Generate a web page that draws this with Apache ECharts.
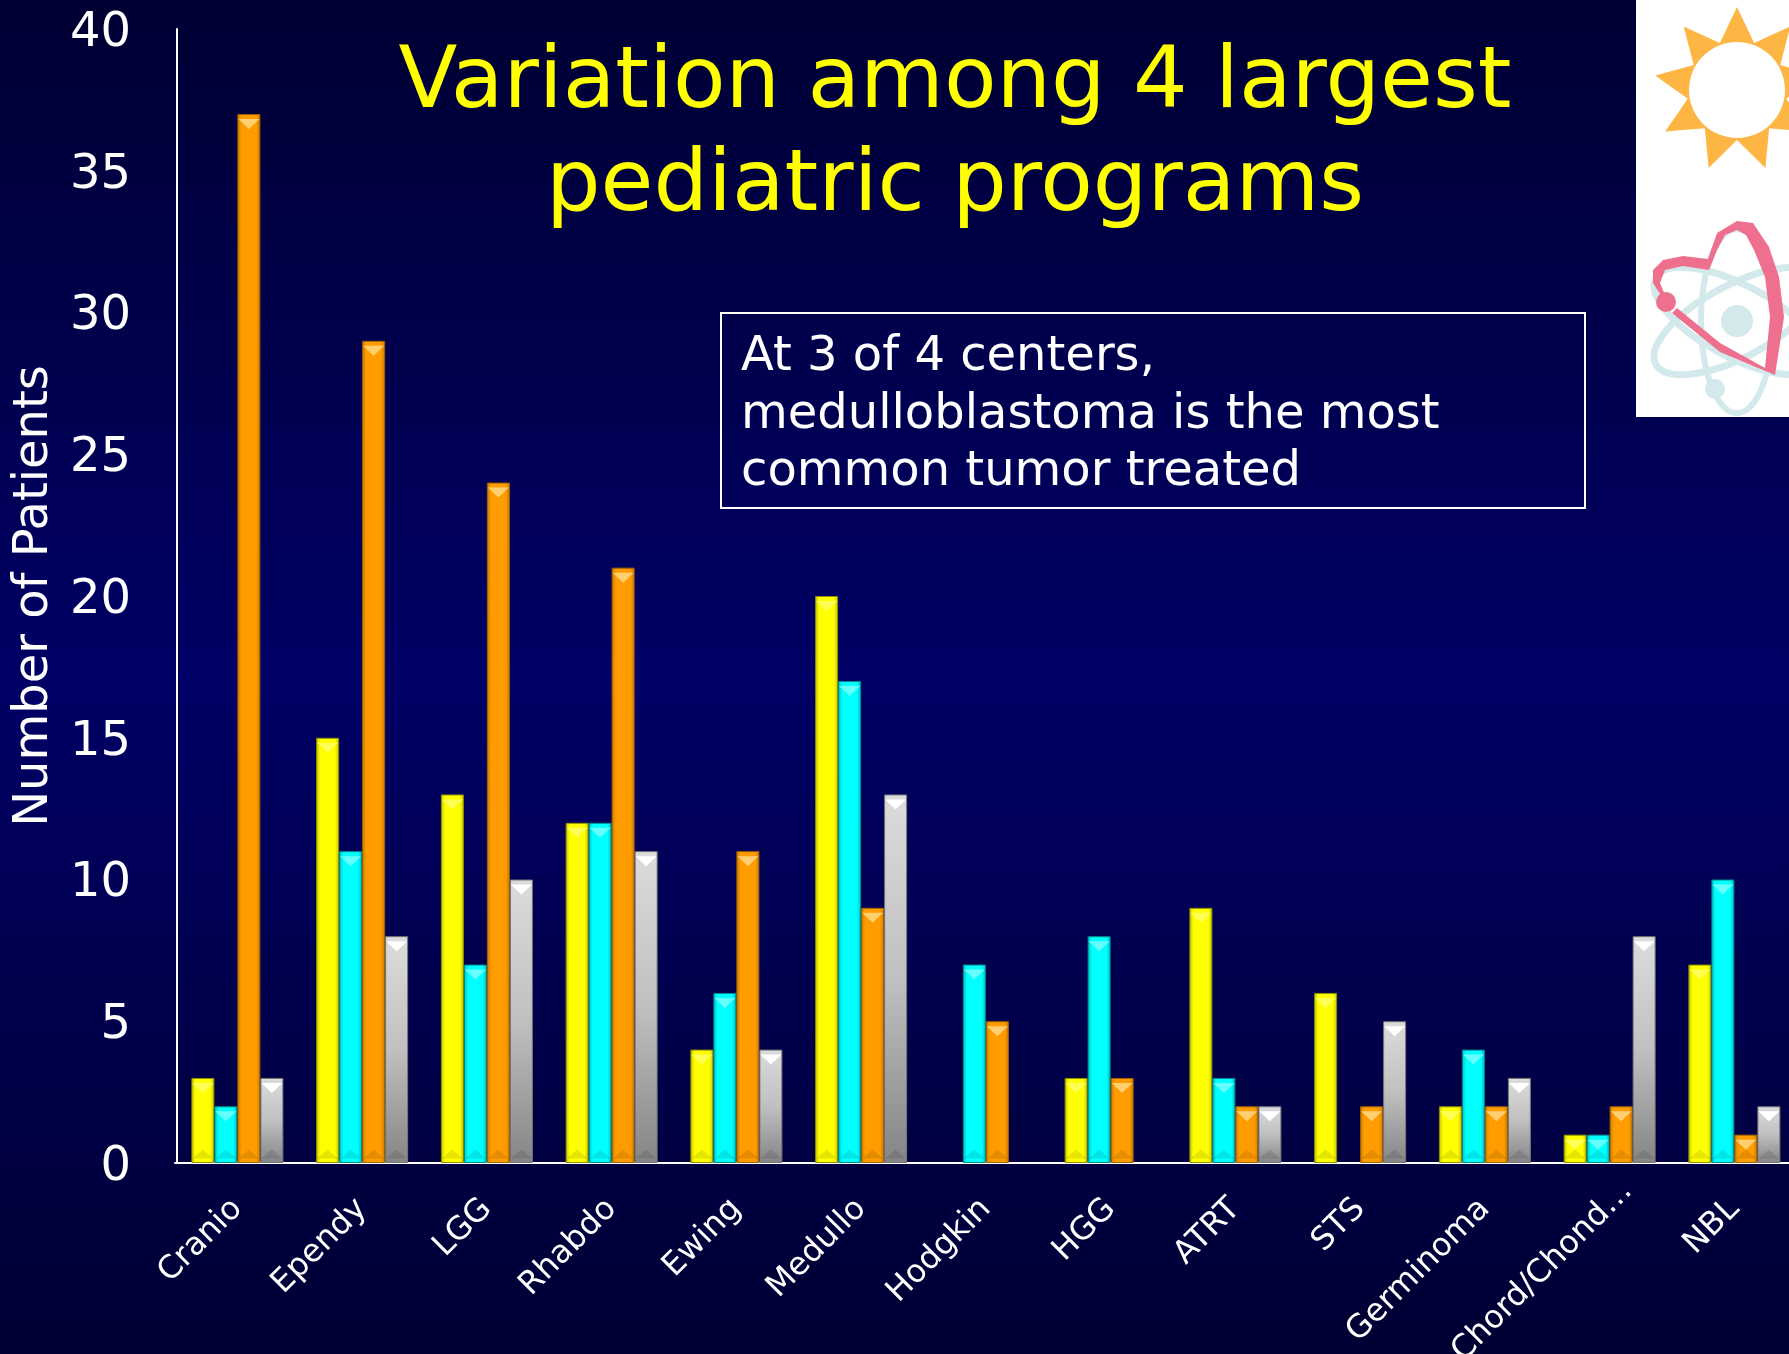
<!DOCTYPE html>
<html>
<head>
<meta charset="utf-8">
<title>Variation among 4 largest pediatric programs</title>
<script src="https://cdn.jsdelivr.net/npm/echarts@6/dist/echarts.min.js"></script>
<style>
  html, body { margin: 0; padding: 0; background: #000044; }
  #main { width: 1789px; height: 1354px; }
</style>
</head>
<body>
<div id="main"></div>
<script>
// values
const categories = ['Cranio', 'Ependy', 'LGG', 'Rhabdo', 'Ewing', 'Medullo', 'Hodgkin', 'HGG', 'ATRT', 'STS', 'Germinoma', 'Chord/Chond…', 'NBL'];
const centerA = [3, 15, 13, 12, 4, 20, null, 3, 9, 6, 2, 1, 7];
const centerB = [2, 11, 7, 12, 6, 17, 7, 8, 3, null, 4, 1, 10];
const centerC = [37, 29, 24, 21, 11, 9, 5, 3, 2, 2, 2, 2, 1];
const centerD = [3, 8, 10, 11, 4, 13, null, null, 2, 5, 3, 8, 2];
const titleLines = ['Variation among 4 largest', 'pediatric programs'];
const noteLines = ['At 3 of 4 centers,', 'medulloblastoma is the most', 'common tumor treated'];

const FONT = '"DejaVu Sans", Verdana, sans-serif';
const BAR_W = 23;

const chart = echarts.init(document.getElementById('main'));

function sideShade(edge, mid) {
  return new echarts.graphic.LinearGradient(0, 0, 1, 0, [
    { offset: 0, color: edge },
    { offset: 0.18, color: mid },
    { offset: 0.82, color: mid },
    { offset: 1, color: edge }
  ]);
}

// bar + bevel styling per center
const looks = [
  { data: centerA, fill: sideShade('#c4c400', '#ffff00'), border: '#8f8f00', bevel: '#ffff55' },
  { data: centerB, fill: sideShade('#00bcbc', '#00ffff'), border: '#008c8c', bevel: '#66ffff' },
  { data: centerC, fill: sideShade('#c87a00', '#ff9c00'), border: '#a06400', bevel: '#ffcf70' },
  {
    data: centerD,
    fill: new echarts.graphic.LinearGradient(0, 0, 0, 1, [
      { offset: 0, color: '#dcdcdc' },
      { offset: 0.5, color: '#c0c0c0' },
      { offset: 1, color: '#858585' }
    ]),
    border: '#777777',
    bevel: '#ffffff'
  }
];

const series = [];
looks.forEach(function (look, i) {
  series.push({
    type: 'bar',
    name: 'Center ' + (i + 1),
    data: look.data,
    barWidth: BAR_W,
    barGap: '0%',
    z: 2,
    itemStyle: { color: look.fill, borderColor: look.border, borderWidth: 1 }
  });
});
// top bevel
looks.forEach(function (look) {
  series.push({
    type: 'pictorialBar',
    data: look.data,
    barWidth: BAR_W,
    barGap: '0%',
    symbol: 'path://M0 0 L2 0 L1 1 Z',
    symbolKeepAspect: false,
    symbolSize: [BAR_W - 2, 10],
    symbolPosition: 'end',
    symbolOffset: [0, '50%'],
    z: 3,
    silent: true,
    itemStyle: { color: look.bevel }
  });
});
// faint bottom bevel, on a hidden second x axis so it gets its own slots
looks.forEach(function (look) {
  series.push({
    type: 'pictorialBar',
    xAxisIndex: 1,
    data: look.data,
    barWidth: BAR_W,
    barGap: '0%',
    symbol: 'path://M0 1 L2 1 L1 0 Z',
    symbolKeepAspect: false,
    symbolSize: [BAR_W - 2, 9],
    symbolPosition: 'start',
    symbolOffset: [0, '-50%'],
    z: 3,
    silent: true,
    itemStyle: { color: 'rgba(0,0,0,0.1)' }
  });
});

// sun outline for the white corner picture
const sunPts = [];
for (let k = 0; k < 18; k++) {
  const ang = -Math.PI / 2 + k * Math.PI / 9;
  const r = k % 2 === 0 ? 83 : 50;
  sunPts.push([1737 + r * Math.cos(ang), 90 + r * Math.sin(ang)]);
}

// pink heart-shaped orbit, traced by hand
const heartPts = [
  [1665, 302], [1653, 283], [1653, 270], [1663, 260], [1683, 256], [1708, 259], [1717, 233], [1737, 221],
  [1753, 223], [1769, 247], [1779, 277], [1784, 317], [1775, 375], [1720, 352], [1672, 313], [1677, 308],
  [1720, 343], [1765, 368], [1770, 317], [1765, 277], [1754, 250], [1746, 235], [1737, 230], [1725, 235],
  [1717, 250], [1709, 270], [1683, 266], [1665, 270], [1660, 283], [1665, 295]
];

function orbit(rx, ry, deg, color, width) {
  return {
    type: 'ellipse',
    x: 1737, y: 321,
    rotation: deg * Math.PI / 180,
    shape: { cx: 0, cy: 0, rx: rx, ry: ry },
    style: { fill: 'none', stroke: color, lineWidth: width },
    z: 11
  };
}

// the long label sits further right in the reference
const axisCategories = categories.map(function (name) {
  if (name === 'Chord/Chond…') {
    return { value: name, textStyle: { align: 'center', padding: [0, 190, 0, 0] } };
  }
  return name;
});

const option = {
  animation: false,
  backgroundColor: new echarts.graphic.LinearGradient(0, 0, 0, 1, [
    { offset: 0, color: '#000033' },
    { offset: 0.5, color: '#000066' },
    { offset: 1, color: '#000033' }
  ]),
  title: {
    text: titleLines.join('\n'),
    left: 950,
    top: 28,
    textAlign: 'center',
    textStyle: { color: '#ffff00', fontFamily: FONT, fontWeight: 'normal', fontSize: 86, lineHeight: 103 }
  },
  grid: { left: 175, top: 29, width: 1621.75, height: 1134, outerBoundsMode: 'none' },
  xAxis: [
    {
      type: 'category',
      data: axisCategories,
      axisLine: { lineStyle: { color: '#ffffff', width: 2 } },
      axisTick: { show: false },
      axisLabel: { color: '#ffffff', fontFamily: FONT, fontSize: 32, rotate: 45, margin: 41, interval: 0 }
    },
    { type: 'category', data: categories, show: false }
  ],
  yAxis: {
    type: 'value',
    min: 0,
    max: 40,
    interval: 5,
    offset: -2,
    name: 'Number of Patients',
    nameLocation: 'middle',
    nameGap: 115,
    nameTextStyle: { color: '#ffffff', fontFamily: FONT, fontSize: 48 },
    axisLine: { show: true, lineStyle: { color: '#ffffff', width: 2 } },
    axisTick: { show: false },
    splitLine: { show: false },
    axisLabel: { color: '#ffffff', fontFamily: FONT, fontSize: 48, margin: 46, verticalAlign: 'top', lineHeight: 9 }
  },
  series: series,
  graphic: [
    // note box
    {
      type: 'rect',
      shape: { x: 721, y: 313, width: 864, height: 195 },
      style: { fill: 'none', stroke: '#ffffff', lineWidth: 2 },
      z: 5
    },
    {
      type: 'text',
      x: 741,
      y: 329,
      style: { text: noteLines.join('\n'), fill: '#ffffff', font: '48px ' + FONT, lineHeight: 57.5 },
      z: 5
    },
    // corner picture
    {
      type: 'rect',
      shape: { x: 1636, y: 0, width: 153, height: 417 },
      style: { fill: '#ffffff' },
      z: 10
    },
    {
      type: 'polygon',
      shape: { points: sunPts },
      style: { fill: '#fdb643' },
      z: 11
    },
    {
      type: 'circle',
      shape: { cx: 1737, cy: 90, r: 48 },
      style: { fill: '#ffffff' },
      z: 12
    },
    orbit(92, 36, -28, '#d3e9eb', 7),
    orbit(92, 36, 28, '#d3e9eb', 7),
    orbit(36, 92, 0, '#d3e9eb', 6),
    {
      type: 'circle',
      shape: { cx: 1737, cy: 321, r: 16 },
      style: { fill: '#d3e9eb' },
      z: 12
    },
    {
      type: 'circle',
      shape: { cx: 1715, cy: 389, r: 10 },
      style: { fill: '#d3e9eb' },
      z: 12
    },
    {
      type: 'polygon',
      shape: { points: heartPts },
      style: { fill: '#ee6f8e' },
      z: 13
    },
    {
      type: 'circle',
      shape: { cx: 1666, cy: 302, r: 10 },
      style: { fill: '#ee6f8e' },
      z: 13
    }
  ]
};

chart.setOption(option);
</script>
</body>
</html>
